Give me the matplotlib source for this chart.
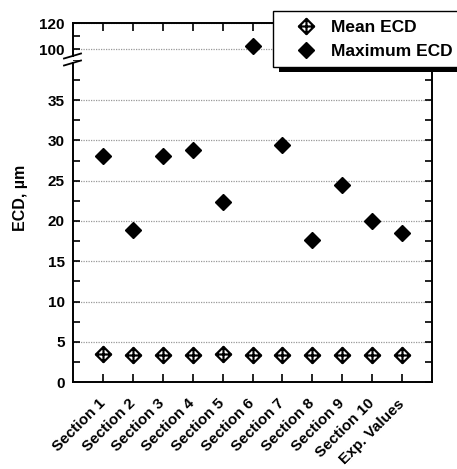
import matplotlib
matplotlib.use("Agg")
import matplotlib.pyplot as plt
from matplotlib.path import Path
from matplotlib.lines import Line2D
from matplotlib.patches import Rectangle
from matplotlib.ticker import MultipleLocator

plt.rcParams['font.family'] = ['Liberation Sans', 'DejaVu Sans']
plt.rcParams['font.weight'] = 'bold'

# data
categories = ['Section 1', 'Section 2', 'Section 3', 'Section 4', 'Section 5',
              'Section 6', 'Section 7', 'Section 8', 'Section 9', 'Section 10',
              'Exp. Values']
mean_ecd = [3.5, 3.3, 3.3, 3.4, 3.5, 3.4, 3.3, 3.4, 3.3, 3.3, 3.3]
max_ecd = [28.1, 18.9, 28.1, 28.8, 22.3, 102.5, 29.5, 17.6, 24.5, 20.0, 18.5]
lower_ticks = [0, 5, 10, 15, 20, 25, 30, 35]
upper_ticks = [100, 120]

W, H = 457, 469
fig = plt.figure(figsize=(W / 100, H / 100), dpi=100)

def fx(px):
    return px / W

def fy(py):
    return 1 - py / H

left, right, top, bottom, split = 73, 432, 23, 382, 60
ax_lo = fig.add_axes([fx(left), fy(bottom), fx(right - left), fy(split) - fy(bottom)])
ax_hi = fig.add_axes([fx(left), fy(split), fx(right - left), fy(top) - fy(split)])

# crossed diamond marker for the mean values
mean_marker = Path([(0, -1), (1, 0), (0, 1), (-1, 0), (0, -1),
                    (-1, 0), (1, 0), (0, -1), (0, 1)],
                   [Path.MOVETO, Path.LINETO, Path.LINETO, Path.LINETO, Path.CLOSEPOLY,
                    Path.MOVETO, Path.LINETO, Path.MOVETO, Path.LINETO])

x = list(range(1, len(categories) + 1))
lo_top = 40.0
hi_bot = 120 - (split - top) / (26 / 20)   # upper part: 20 units over 26 px

ax_lo.plot(x, mean_ecd, linestyle='none', marker=mean_marker, ms=11,
           mfc='none', mec='black', mew=1.6, zorder=3)
for ax in (ax_lo, ax_hi):
    ax.plot(x, max_ecd, linestyle='none', marker='D', ms=8.5,
            color='black', zorder=3)
    ax.set_xlim(0, len(categories) + 1)
    ax.yaxis.grid(True, linestyle=(0, (1, 1)), color='#999999', linewidth=0.9)
    ax.set_axisbelow(True)
    for s in ax.spines.values():
        s.set_linewidth(1.4)
    ax.tick_params(direction='in', width=1.2, labelsize=11)
    ax.tick_params(axis='x', length=6)
    ax.tick_params(axis='y', which='major', length=5, right=True, pad=6)
    ax.tick_params(axis='y', which='minor', length=5, right=True, direction='in', width=1.2)

ax_lo.set_ylim(0, lo_top)
ax_lo.set_yticks(lower_ticks)
ax_lo.yaxis.set_minor_locator(MultipleLocator(2.5))
ax_lo.spines['top'].set_visible(False)
ax_lo.spines['left'].set_bounds(0, 39.6)
ax_lo.set_xticks(x)
ax_lo.set_xticklabels(categories, rotation=45, ha='right', va='center',
                      rotation_mode='anchor', fontsize=11)
ax_lo.tick_params(axis='x', pad=14)

ax_hi.set_ylim(hi_bot, 120)
ax_hi.set_yticks(upper_ticks)
ax_hi.yaxis.set_minor_locator(MultipleLocator(10))
ax_hi.spines['bottom'].set_visible(False)
ax_hi.spines['left'].set_bounds(94.6, 120)
ax_hi.set_xticks(x)
ax_hi.tick_params(axis='x', bottom=False, top=True, labelbottom=False)

# axis break marks on the left spine
for y0 in (58.5, 65.5):
    fig.add_artist(Line2D([fx(64), fx(81)], [fy(y0), fy(y0 - 5)],
                          color='black', linewidth=1.3))

fig.text(fx(20), fy(198), 'ECD, µm', rotation=90, ha='center', va='center',
         fontsize=11.5, fontweight='bold')

handles = [Line2D([], [], linestyle='none', marker=mean_marker, ms=11, mfc='none',
                  mec='black', mew=1.6),
           Line2D([], [], linestyle='none', marker='D', ms=8.5, color='black')]
leg = fig.legend(handles, ['Mean ECD', 'Maximum ECD'], loc='upper left',
                 bbox_to_anchor=(fx(273), fy(11)), borderaxespad=0,
                 fontsize=12.5, frameon=True, fancybox=False, framealpha=1,
                 edgecolor='black', handlelength=2.8, handletextpad=0.05,
                 borderpad=0.5, labelspacing=0.5)
leg.get_frame().set_linewidth(1.0)
leg.set_zorder(10)

# solid black drop shadow behind the legend box
fig.canvas.draw()
bb = leg.get_frame().get_window_extent()
inv = fig.transFigure.inverted()
(x0, y0), (x1, y1) = inv.transform([(bb.x0 + 6, bb.y0 - 5), (bb.x1 + 6, bb.y1 - 5)])
fig.add_artist(Rectangle((x0, y0), x1 - x0, y1 - y0, transform=fig.transFigure,
                         facecolor='black', edgecolor='none', zorder=9))

fig.savefig('out.png', dpi=100)
